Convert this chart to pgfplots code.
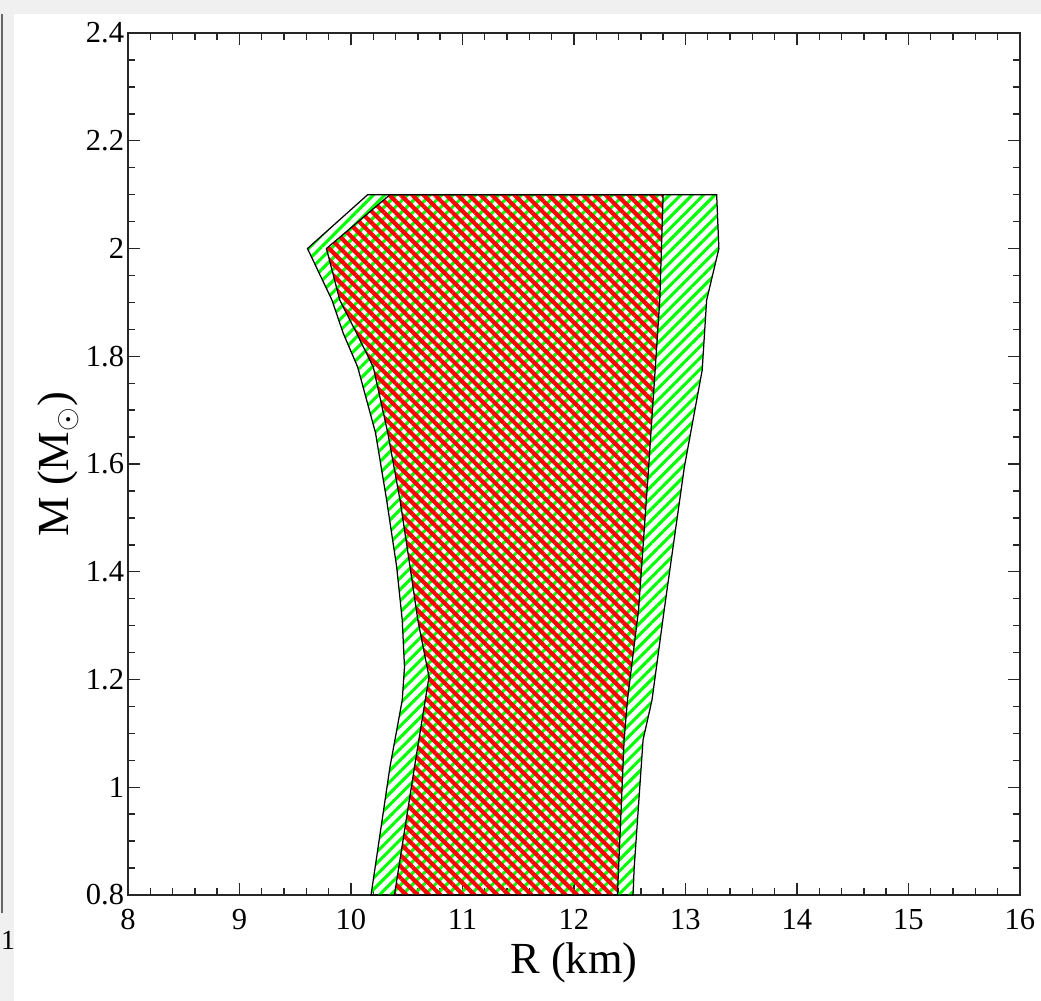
\documentclass[border=0pt]{standalone}
\usepackage{fontspec}
\setmainfont{Liberation Serif}
\usepackage{pgfplots}
\pgfplotsset{compat=1.18}
\usetikzlibrary{patterns.meta}
\definecolor{bggray}{RGB}{240,240,240}
\definecolor{pgreen}{RGB}{0,255,0}
\definecolor{pred}{RGB}{255,0,0}
\begin{document}
\begin{tikzpicture}
% 1pt = 2.776 px ; axis box lower-left at (0,0)
\fill[bggray] (-46.11pt,-38.18pt) rectangle (328.89pt,322.41pt);
\fill[white] (-41.07pt,-38.18pt) rectangle (328.89pt,317.36pt);
\draw[black!60, line width=0.6pt] (-45.4pt,-6.5pt) -- (-45.4pt,317.4pt);
\node[anchor=west, inner sep=0pt, font=\fontsize{10}{12}\selectfont] at (-45.9pt,-16.2pt) {1};
\begin{axis}[
  scale only axis,
  width=321.3pt, height=310.5pt,
  xmin=8, xmax=16, ymin=0.8, ymax=2.4,
  xtick={8,9,10,11,12,13,14,15,16},
  ytick={0.8,1,1.2,1.4,1.6,1.8,2,2.2,2.4},
  minor x tick num=4,
  minor y tick num=3,
  tick align=inside,
  major tick length=4.3pt,
  minor tick length=2.5pt,
  axis line style={black!85, line width=0.5pt},
  every tick/.style={black!85, line width=0.5pt},
  /pgf/number format/assume math mode=true,
  ticklabel style={font=\fontsize{11}{13}\selectfont},
  yticklabel style={inner sep=1.2pt},
  xticklabel style={yshift=-1.5pt},
  label style={font=\fontsize{16}{19}\selectfont},
  xlabel={R (km)},
  ylabel={M (M$_{\odot}$)},
  xlabel style={yshift=2pt},
  ylabel style={yshift=-2pt},
]
% outer (green) band
\addplot[draw=black, line width=0.45pt, mark=none,
  pattern={Lines[angle=45,distance=2.9pt,line width=1.1pt]}, pattern color=pgreen]
  coordinates {
  (10.15,2.1) (9.61,2.0) (9.83,1.904) (9.93,1.843) (10.06,1.78) (10.22,1.658)
  (10.32,1.533) (10.41,1.409) (10.46,1.31) (10.48,1.223) (10.46,1.162)
  (10.35,1.038) (10.18,0.8) (12.53,0.8) (12.54,0.85) (12.62,1.088)
  (12.70,1.162) (12.81,1.33) (12.99,1.594) (13.15,1.774) (13.19,1.904)
  (13.30,2.0) (13.28,2.1)
  } -- cycle;
% inner (red) band
\addplot[draw=black, line width=0.45pt, mark=none,
  pattern={Lines[angle=-45,distance=2.9pt,line width=1.5pt]}, pattern color=pred]
  coordinates {
  (10.35,2.1) (9.78,2.0) (9.90,1.904) (10.05,1.843) (10.20,1.78) (10.33,1.658)
  (10.44,1.533) (10.53,1.409) (10.60,1.31) (10.70,1.205) (10.57,1.038)
  (10.39,0.8) (12.39,0.8) (12.45,1.088) (12.48,1.162) (12.58,1.33)
  (12.67,1.594) (12.77,1.904) (12.80,2.1)
  } -- cycle;
\end{axis}
\pgfresetboundingbox
\path[use as bounding box] (-46.11pt,-38.18pt) rectangle (328.89pt,322.41pt);
\end{tikzpicture}
\end{document}
